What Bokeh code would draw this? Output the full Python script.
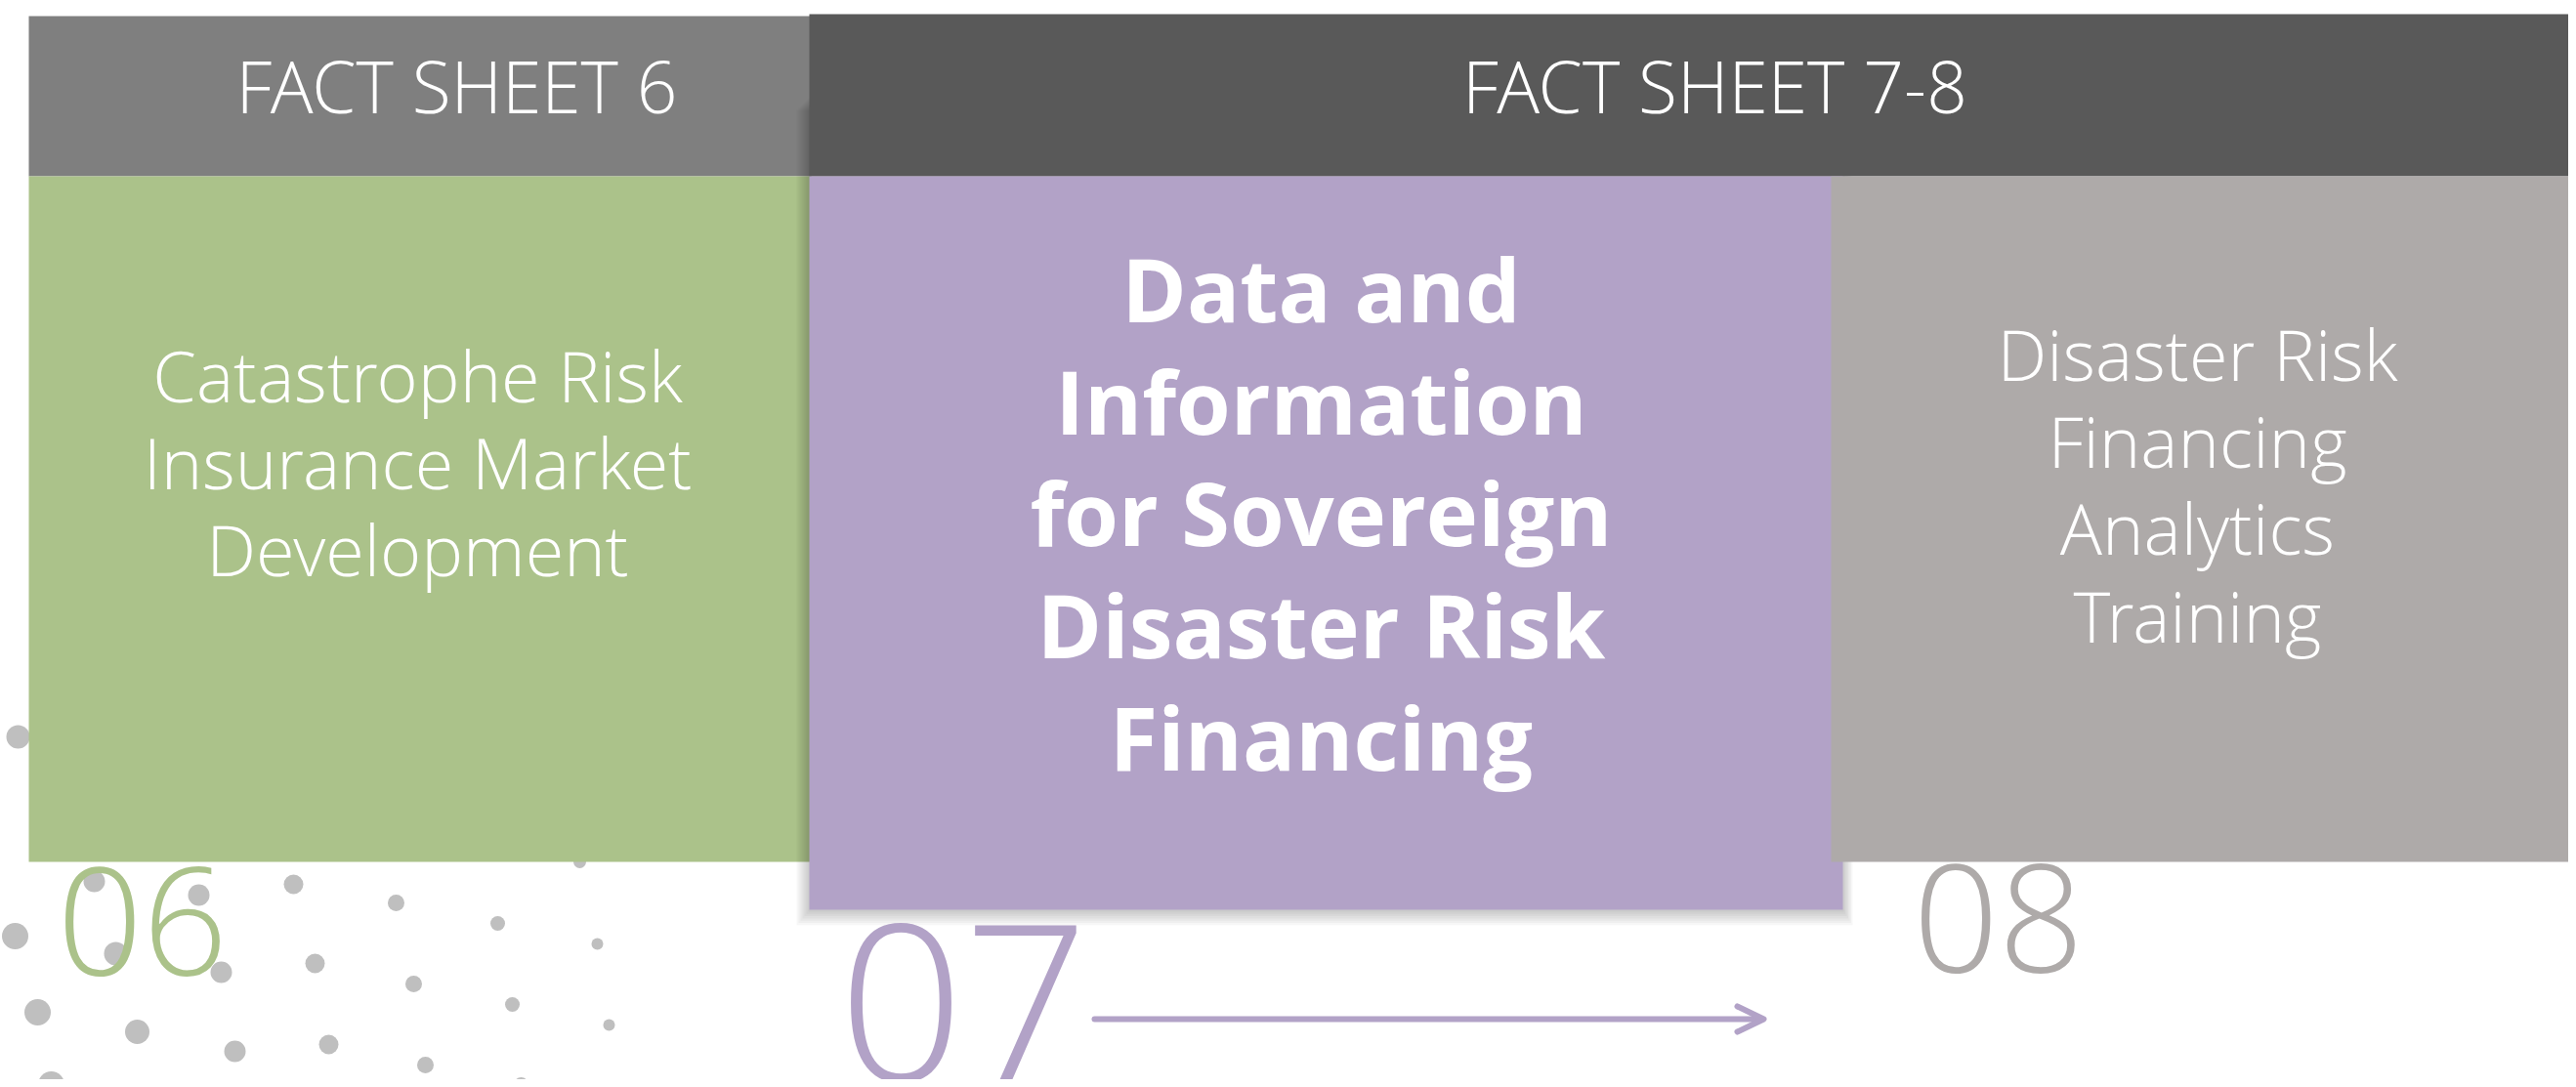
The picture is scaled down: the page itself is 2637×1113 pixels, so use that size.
from bokeh.plotting import figure
from bokeh.models import Range1d
from bokeh.core.properties import value
from bokeh.embed import file_html
from bokeh.resources import INLINE

# ---------------- data ----------------
header_labels = ["FACT SHEET 6", "FACT SHEET 7-8"]
green_lines = ["Catastrophe Risk", "Insurance Market", "Development"]
purple_lines = ["Data and", "Information", "for Sovereign", "Disaster Risk", "Financing"]
gray_lines = ["Disaster Risk", "Financing", "Analytics", "Training"]
number_labels = ["06", "07", "08"]

# decorative dots (x, y, diameter) in page pixels
dot_x = [18, 96, 203, 300, 405, 509, 593, 611, 15, 118, 226, 322, 423, 524, 623, 38, 140, 240, 336, 435, 533, 52]
dot_y = [754, 902, 916, 905, 924, 945, 882, 966, 958, 976, 995, 986, 1007, 1028, 1049, 1036, 1056, 1076, 1069, 1090, 1110, 1110]
dot_d = [24, 22, 22, 20, 17, 15, 13, 12, 27, 24, 22, 20, 17, 15, 12, 27, 25, 22, 20, 17, 15, 27]

# ---------------- styles ----------------
C_HDR1 = "#7f7f7f"
C_HDR2 = "#595959"
C_GREEN = "#abc28a"
C_PURPLE = "#b2a2c7"
C_GRAY = "#aeaaa9"
C_DOT = "#bfbfbf"
LIGHT = value("'Open Sans Light', 'Open Sans', sans-serif")
BOLD = value("Open Sans")
SHIFT = 0.38  # baseline correction, fraction of font size


def base(ys, fs):
    return [y - SHIFT * fs for y in ys]


W, H = 2629, 1105
p = figure(width=W, height=H, x_range=Range1d(0, W), y_range=Range1d(H, 0),
           output_backend="svg", toolbar_location=None, min_border=0,
           x_axis_location=None, y_axis_location=None)
p.grid.visible = False
p.outline_line_color = None
p.background_fill_color = "white"
p.border_fill_color = "white"

# dots
p.scatter(dot_x, dot_y, size=dot_d, marker="circle", fill_color=C_DOT, line_color=None)

# left header and green box
p.quad(left=[29], right=[830], top=[16], bottom=[180], fill_color=C_HDR1, line_color=None)
p.quad(left=[29], right=[830], top=[180], bottom=[882], fill_color=C_GREEN, line_color=None)

# soft shadow of the central box
for k in range(7):
    p.quad(left=[827 - 2 * k], right=[1887 + 1.5 * k], top=[100 + 2 * k], bottom=[933 + 2.3 * k],
           fill_color="black", fill_alpha=0.03, line_color=None)

# right header
p.quad(left=[828], right=[2640], top=[14], bottom=[180], fill_color=C_HDR2, line_color=None)

# central box
p.quad(left=[828], right=[1886], top=[180], bottom=[931], fill_color=C_PURPLE, line_color=None)

# grey box (drawn over the central box's right edge)
p.quad(left=[1874], right=[2640], top=[180], bottom=[882], fill_color=C_GRAY, line_color=None)

# header texts
fs = 73
p.text(x=[467, 1755], y=base([115, 115], fs), text=header_labels, text_font=LIGHT,
       text_font_size=f"{fs}px", text_color="white", text_align="center", text_baseline="alphabetic")

# green texts
fs = 72
p.text(x=[427] * 3, y=base([411, 500, 589], fs), text=green_lines, text_font=LIGHT,
       text_font_size=f"{fs}px", text_color="white", text_align="center", text_baseline="alphabetic")

# purple bold texts
fs = 90
p.text(x=[1352] * 5, y=base([329, 444, 558, 673, 788], fs), text=purple_lines, text_font=BOLD,
       text_font_style="bold", text_font_size=f"{fs}px",
       text_color="white", text_align="center", text_baseline="alphabetic")

# gray texts
fs = 72
p.text(x=[2249] * 4, y=base([389, 478, 567, 657], fs), text=gray_lines, text_font=LIGHT,
       text_font_size=f"{fs}px", text_color="white", text_align="center", text_baseline="alphabetic")

# big numbers
fs = 153
p.text(x=[58], y=base([1002], fs), text=[number_labels[0]], text_font=LIGHT, text_font_size=f"{fs}px",
       text_color=C_GREEN, text_align="left", text_baseline="alphabetic")
p.text(x=[1958], y=base([999], fs), text=[number_labels[2]], text_font=LIGHT, text_font_size=f"{fs}px",
       text_color=C_GRAY, text_align="left", text_baseline="alphabetic")
fs = 224
p.text(x=[858], y=base([1112], fs), text=[number_labels[1]], text_font=LIGHT, text_font_size=f"{fs}px",
       text_color=C_PURPLE, text_align="left", text_baseline="alphabetic")

# arrow
p.line([1120, 1802], [1043, 1043], line_color=C_PURPLE, line_width=6, line_cap="round")
p.line([1778, 1805, 1778], [1030, 1043, 1056], line_color=C_PURPLE, line_width=6,
       line_cap="round", line_join="round")

open("out.html", "w").write(file_html(p, INLINE))
